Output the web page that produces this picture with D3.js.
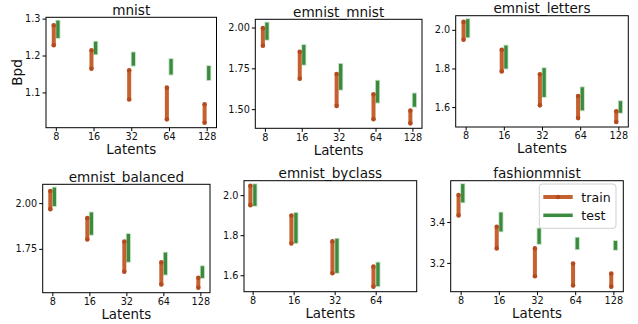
<!DOCTYPE html>
<html>
<head>
<meta charset="utf-8">
<script src="https://cdn.jsdelivr.net/npm/d3@7"></script>
<style>
  body { margin: 0; background: #fff; }
  svg { display: block; font-family: "DejaVu Sans", sans-serif; }
</style>
</head>
<body>
<svg id="chart" width="638" height="324"></svg>
<script>
const latents = ['8', '16', '32', '64', '128'];

// [low, high] Bpd per latent size
const mnistTrain = [[1.228, 1.282], [1.164, 1.214], [1.081, 1.160], [1.027, 1.113], [1.018, 1.068]];
const mnistTest = [[1.252, 1.290], [1.208, 1.233], [1.177, 1.204], [1.153, 1.186], [1.138, 1.167]];
const emnistMnistTrain = [[1.888, 1.996], [1.686, 1.851], [1.520, 1.715], [1.438, 1.591], [1.413, 1.491]];
const emnistMnistTest = [[1.935, 2.020], [1.782, 1.883], [1.629, 1.767], [1.550, 1.664], [1.525, 1.586]];
const lettersTrain = [[1.949, 2.041], [1.784, 1.897], [1.609, 1.770], [1.543, 1.657], [1.523, 1.578]];
const lettersTest = [[1.970, 2.047], [1.808, 1.910], [1.661, 1.793], [1.592, 1.694], [1.579, 1.622]];
const balancedTrain = [[1.967, 2.066], [1.801, 1.919], [1.625, 1.790], [1.555, 1.676], [1.537, 1.592]];
const balancedTest = [[1.993, 2.076], [1.836, 1.940], [1.688, 1.822], [1.618, 1.720], [1.600, 1.646]];
const byclassTrain = [[1.950, 2.047], [1.759, 1.898], [1.610, 1.769], [1.543, 1.643]];
const byclassTest = [[1.955, 2.046], [1.769, 1.903], [1.620, 1.774], [1.554, 1.655]];
const fashionTrain = [[3.432, 3.532], [3.271, 3.377], [3.135, 3.271], [3.090, 3.197], [3.084, 3.148]];
const fashionTest = [[3.504, 3.577], [3.362, 3.438], [3.301, 3.360], [3.275, 3.315], [3.272, 3.299]];

const titles = ['mnist', 'emnist_mnist', 'emnist_letters', 'emnist_balanced', 'emnist_byclass', 'fashionmnist'];
const yTicks = [[1.1, 1.2, 1.3], [1.5, 1.75, 2.0], [1.6, 1.8, 2.0], [1.75, 2.0], [1.6, 1.8, 2.0], [3.2, 3.4]];
const yFormats = ['.1f', '.2f', '.1f', '.2f', '.1f', '.1f'];

const panels = [
  { train: mnistTrain, test: mnistTest },
  { train: emnistMnistTrain, test: emnistMnistTest },
  { train: lettersTrain, test: lettersTest },
  { train: balancedTrain, test: balancedTest },
  { train: byclassTrain, test: byclassTest },
  { train: fashionTrain, test: fashionTest }
];

// pixel boxes of each subplot (left, top, right, bottom)
const boxes = [
  [46, 17.3, 216.5, 127.7],
  [255.3, 19.3, 422, 128.3],
  [455.7, 15.7, 628.3, 127],
  [42.7, 184.3, 210, 292.7],
  [244, 180.7, 416.7, 291.7],
  [450.7, 180.7, 623.3, 291.7]
];

const trainColor = '#c5602f';
const trainDot = '#b44a1d';
const testColor = '#3b8b3f';
const off = 0.055;

const svg = d3.select('#chart');

panels.forEach((p, k) => {
  const [x0, y0, x1, y1] = boxes[k];
  const n = p.train.length;

  // matplotlib-like auto limits with 5% margins
  const lo = -off, hi = n - 1 + off, span = hi - lo;
  const x = d3.scaleLinear()
    .domain([lo - 0.05 * span, Math.max(hi + 0.05 * span, latents.length - 1)])
    .range([x0, x1]);

  const all = p.train.flat().concat(p.test.flat());
  const [ymin, ymax] = d3.extent(all);
  const ypad = (ymax - ymin) * 0.05;
  const y = d3.scaleLinear().domain([ymin - ypad, ymax + ypad]).range([y1, y0]);

  const g = svg.append('g');

  // axes
  const xAxis = d3.axisBottom(x)
    .tickValues(d3.range(n))
    .tickFormat(i => latents[i])
    .tickSize(3.5).tickPadding(2);
  const yAxis = d3.axisLeft(y)
    .tickValues(yTicks[k])
    .tickFormat(d3.format(yFormats[k]))
    .tickSize(3.5).tickPadding(2);

  g.append('g').attr('transform', `translate(0,${y1})`).call(xAxis)
    .call(a => a.select('.domain').remove())
    .selectAll('text').attr('font-size', 9.7).attr('fill', '#111')
    .attr('font-family', '"DejaVu Sans", sans-serif');
  g.append('g').attr('transform', `translate(${x0},0)`).call(yAxis)
    .call(a => a.select('.domain').remove())
    .selectAll('text').attr('font-size', 9.7).attr('fill', '#111')
    .attr('font-family', '"DejaVu Sans", sans-serif');

  // test bars
  g.selectAll('line.halo')
    .data(p.test)
    .enter()
    .append('line')
    .attr('class', 'halo')
    .attr('x1', (d, i) => x(i + off))
    .attr('x2', (d, i) => x(i + off))
    .attr('y1', d => y(d[0]))
    .attr('y2', d => y(d[1]))
    .attr('stroke', '#a6d2a6')
    .attr('stroke-width', 5)
    .attr('stroke-linecap', 'square')
    .attr('opacity', 0.7);

  g.selectAll('line.test')
    .data(p.test)
    .enter()
    .append('line')
    .attr('class', 'test')
    .attr('x1', (d, i) => x(i + off))
    .attr('x2', (d, i) => x(i + off))
    .attr('y1', d => y(d[0]))
    .attr('y2', d => y(d[1]))
    .attr('stroke', testColor)
    .attr('stroke-width', 3.3)
    .attr('stroke-linecap', 'square');

  // train bars with end markers
  g.selectAll('line.train')
    .data(p.train)
    .enter()
    .append('line')
    .attr('class', 'train')
    .attr('x1', (d, i) => x(i - off))
    .attr('x2', (d, i) => x(i - off))
    .attr('y1', d => y(d[0]))
    .attr('y2', d => y(d[1]))
    .attr('stroke', trainColor)
    .attr('stroke-width', 4)
    .attr('stroke-linecap', 'butt');

  g.selectAll('circle.dot')
    .data(p.train.flatMap((d, i) => [[i, d[0]], [i, d[1]]]))
    .enter()
    .append('circle')
    .attr('class', 'dot')
    .attr('cx', d => x(d[0] - off))
    .attr('cy', d => y(d[1]))
    .attr('r', 2.3)
    .attr('fill', trainDot);

  // frame
  g.append('rect')
    .attr('x', x0).attr('y', y0)
    .attr('width', x1 - x0).attr('height', y1 - y0)
    .attr('fill', 'none').attr('stroke', '#000').attr('stroke-width', 1);

  // title and x label
  g.append('text')
    .attr('x', (x0 + x1) / 2).attr('y', y0 - 2.8)
    .attr('text-anchor', 'middle')
    .attr('font-size', 13.6).attr('fill', '#111')
    .text(titles[k]);

  g.append('text')
    .attr('x', (x0 + x1) / 2).attr('y', y1 + 26.4)
    .attr('text-anchor', 'middle')
    .attr('font-size', 13.4).attr('fill', '#111')
    .text('Latents');
});

// y label on first panel
svg.append('text')
  .attr('transform', `translate(22,${(boxes[0][1] + boxes[0][3]) / 2}) rotate(-90)`)
  .attr('text-anchor', 'middle')
  .attr('font-size', 13.6).attr('fill', '#111')
  .text('Bpd');

// legend in last panel
const leg = svg.append('g').attr('transform', 'translate(539.3,184)');
leg.append('rect')
  .attr('width', 76.7).attr('height', 44.3).attr('rx', 3)
  .attr('fill', '#fff').attr('fill-opacity', 0.8)
  .attr('stroke', '#d0d0d0').attr('stroke-width', 1);

const legItems = ['train', 'test'];
legItems.forEach((name, i) => {
  const ly = 13 + i * 18.3;
  leg.append('line')
    .attr('x1', 4).attr('x2', 33.4).attr('y1', ly).attr('y2', ly)
    .attr('stroke', name === 'train' ? trainColor : testColor)
    .attr('stroke-width', name === 'train' ? 4 : 3.5);
  if (name === 'train') {
    leg.append('circle').attr('cx', 18.7).attr('cy', ly).attr('r', 2.3).attr('fill', trainDot);
  }
  leg.append('text')
    .attr('x', 42).attr('y', ly + 4.5)
    .attr('font-size', 12.6).attr('fill', '#111')
    .text(name);
});
</script>
</body>
</html>
